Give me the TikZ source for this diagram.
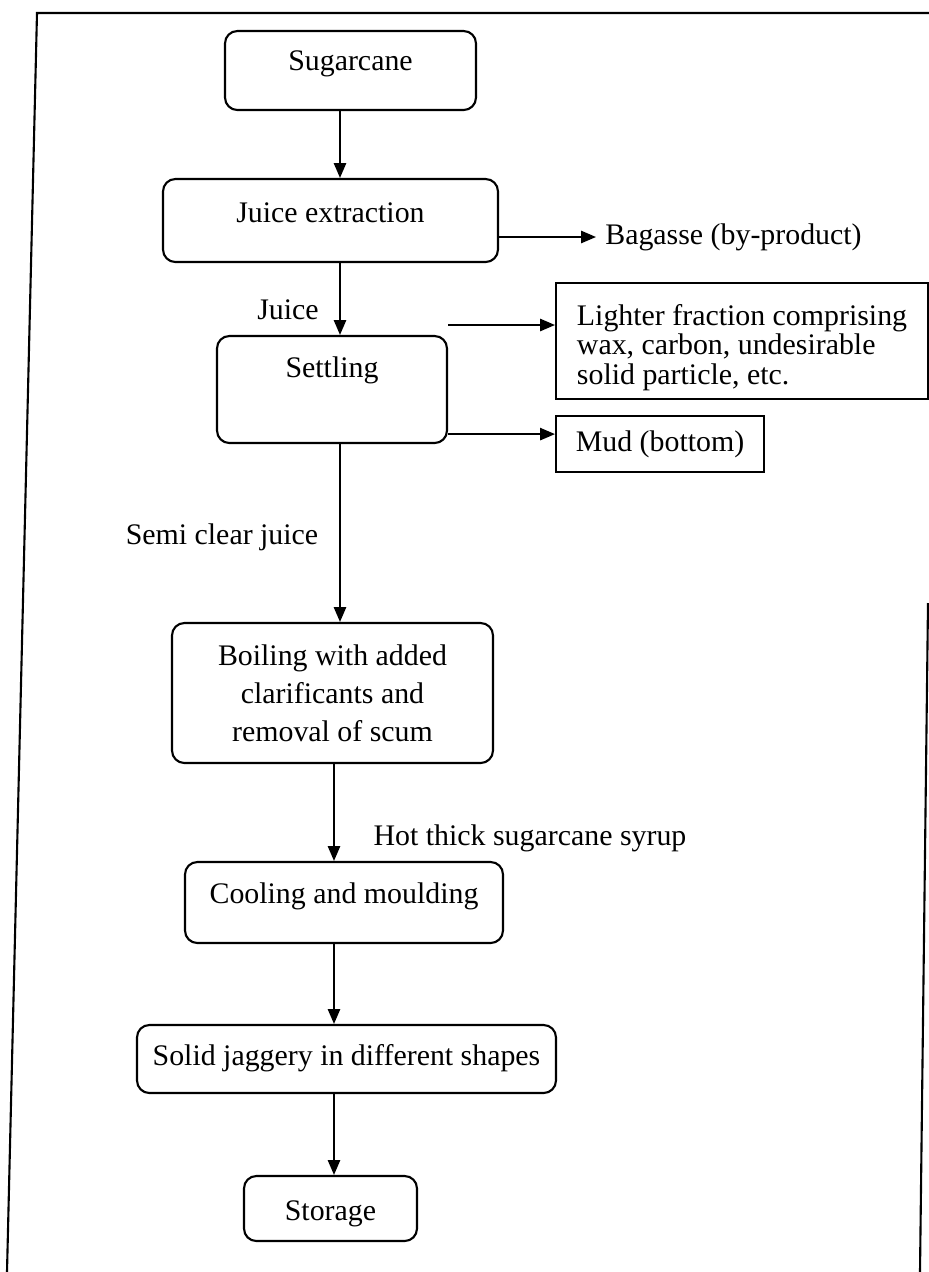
\documentclass[tikz,border=0pt]{standalone}
\usepackage{fontspec}
\setmainfont{Liberation Serif}
\usetikzlibrary{arrows.meta, positioning, calc}

\begin{document}
\begin{tikzpicture}[
    x=0.02cm, y=-0.02cm,
    every node/.style={font=\fontsize{17pt}{17pt}\selectfont},
    stage/.style={
        rectangle,
        rounded corners=7pt,
        draw=black,
        line width=1.2pt,
        inner ysep=0pt,
        anchor=base,
        align=center
    },
    waste/.style={
        rectangle,
        draw=black,
        line width=1.2pt,
        align=left
    },
    flow/.style={
        -{Triangle[length=8.5pt, width=7pt]},
        line width=1pt
    },
    tag/.style={inner sep=2pt},
    frame/.style={line width=1.2pt}
]

% Page frame
\useasboundingbox (0,0) rectangle (929,1272);
\draw[frame] (7,1272) -- (37,13) -- (929,13);
\draw[frame] (928,603) -- (920,1272);

% Main process line
\node[stage, minimum width=5.02cm, text height=0.78cm, text depth=0.80cm] (sugar) at (350.5,70) {Sugarcane};
\node[stage, minimum width=6.70cm, text height=0.86cm, text depth=0.80cm] (juice) at (330.5,222) {Juice extraction};
\node[stage, minimum width=4.60cm, text height=0.82cm, text depth=1.32cm] (settle) at (332,377) {Settling};
\node[stage, anchor=center, minimum width=6.42cm, minimum height=2.80cm,
      font=\fontsize{17pt}{21.5pt}\selectfont] (boil) at (332.5,693) {Boiling with added\\ clarificants and\\ removal of scum};
\node[stage, minimum width=6.36cm, text height=0.82cm, text depth=0.80cm] (cool) at (344,903) {Cooling and moulding};
\node[stage, minimum width=8.38cm, text height=0.80cm, text depth=0.56cm] (solid) at (346.5,1065) {Solid jaggery in different shapes};
\node[stage, minimum width=3.46cm, text height=0.88cm, text depth=0.42cm] (store) at (330.5,1220) {Storage};

% Side products
\node[tag, anchor=west, inner sep=0.18cm] (bagasse) at (596,237) {Bagasse (by-product)};
\node[waste, minimum width=7.44cm, minimum height=2.32cm, text height=53.6pt, text depth=3.7pt,
      anchor=west] (light) at (555,341) {Lighter fraction comprising\\ wax, carbon, undesirable\\ solid particle, etc.};
\node[waste, minimum width=4.16cm, minimum height=1.12cm, below right=0.3cm and 0cm of light.south west] (mud) {Mud (bottom)};

% Stream labels
\node[tag] (juicelbl) at (288,310) {Juice};
\node[tag] (semilbl) at (222,537) {Semi clear juice};
\node[tag] (syruplbl) at (530,838) {Hot thick sugarcane syrup};

% Arrows down the line
\coordinate (upper) at (340,0);
\coordinate (lower) at (334,0);
\draw[flow] (sugar.south -| upper) -- (juice.north -| upper);
\draw[flow] (juice.south -| upper) -- (settle.north -| upper);
\draw[flow] (settle.south -| upper) -- (boil.north -| upper);
\draw[flow] (boil.south -| lower) -- (cool.north -| lower);
\draw[flow] (cool.south -| lower) -- (solid.north -| lower);
\draw[flow] (solid.south -| lower) -- (store.north -| lower);

% Arrows to side products
\coordinate (lightin) at ([yshift=0.32cm]light.west);
\coordinate (mudin) at ([yshift=0.2cm]mud.west);
\draw[flow] (juice.east |- bagasse.west) -- (bagasse.west);
\draw[flow] (settle.east |- lightin) -- (lightin);
\draw[flow] (settle.east |- mudin) -- (mudin);

\end{tikzpicture}
\end{document}
